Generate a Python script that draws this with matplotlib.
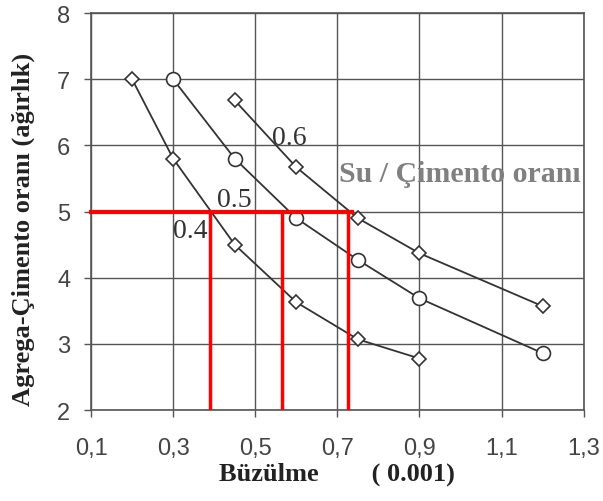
import matplotlib.pyplot as plt
import numpy as np

# water / cement ratio curves
x_04 = [0.2, 0.3, 0.45, 0.6, 0.75, 0.9]
y_04 = [7.0, 5.8, 4.5, 3.63, 3.07, 2.78]
x_05 = [0.3, 0.45, 0.6, 0.75, 0.9, 1.2]
y_05 = [7.0, 5.8, 4.9, 4.27, 3.69, 2.86]
x_06 = [0.45, 0.6, 0.75, 0.9, 1.2]
y_06 = [6.68, 5.67, 4.9, 4.37, 3.57]

# red reading lines at aggregate/cement = 5
red_y = 5
red_x = [0.39, 0.564, 0.725]

xticks = [0.1, 0.3, 0.5, 0.7, 0.9, 1.1, 1.3]
xtick_labels = ["0,1", "0,3", "0,5", "0,7", "0,9", "1,1", "1,3"]
yticks = [2, 3, 4, 5, 6, 7, 8]

plt.rcParams["font.family"] = "Liberation Sans"

fig = plt.figure(figsize=(6.03, 5.02), dpi=100)
ax = fig.add_axes([0.151, 0.181, 0.817, 0.791])

ax.set_xlim(0.1, 1.3)
ax.set_ylim(2, 8)
ax.set_xticks(xticks)
ax.set_xticklabels(xtick_labels, fontsize=17)
ax.set_yticks(yticks)
ax.set_yticklabels([str(v) for v in yticks], fontsize=17)
ax.grid(True, color="#555555", lw=1.0)
ax.set_axisbelow(True)
for s in ax.spines.values():
    s.set_color("#555555")
    s.set_linewidth(1.2)
ax.tick_params(direction="out", length=5, width=1, color="#555555",
               labelcolor="#444444")
ax.tick_params(axis="x", pad=14)
ax.tick_params(axis="y", pad=10)

ax.plot(x_04, y_04, color="#333333", lw=1.3, marker="D", ms=7,
        mfc="white", mec="#333333", mew=1.2, zorder=3)
ax.plot(x_05, y_05, color="#333333", lw=1.3, marker="o", ms=10,
        mfc="white", mec="#333333", mew=1.2, zorder=3)
ax.plot(x_06, y_06, color="#333333", lw=1.3, marker="D", ms=7,
        mfc="white", mec="#333333", mew=1.2, zorder=3)

ax.plot([0.1, max(red_x) + 0.01], [red_y, red_y], color="red", lw=3, zorder=4,
        clip_on=False)
for xv in red_x:
    ax.plot([xv, xv], [2, red_y], color="red", lw=2.5, zorder=4)

serif = "Liberation Serif"
ax.text(0.54, 6.02, "0.6", fontsize=20, family=serif, color="#333333",
        va="baseline")
ax.text(0.407, 5.08, "0.5", fontsize=20, family=serif, color="#333333",
        va="baseline")
ax.text(0.30, 4.62, "0.4", fontsize=20, family=serif, color="#333333",
        va="baseline")
ax.text(0.704, 5.46, "Su / Çimento oranı", fontsize=21.5, family=serif,
        fontweight="bold", color="#808080", va="baseline", clip_on=False,
        zorder=5)

ax.set_xlabel("Büzülme        ( 0.001)", fontsize=19, family=serif,
              fontweight="bold", color="#222222", labelpad=2)
ax.set_ylabel("Agrega-Çimento oranı (ağırlık)", fontsize=19, family=serif,
              fontweight="bold", color="#222222")
ax.yaxis.set_label_coords(-0.114, 0.458)

fig.savefig("out.png", dpi=100)
